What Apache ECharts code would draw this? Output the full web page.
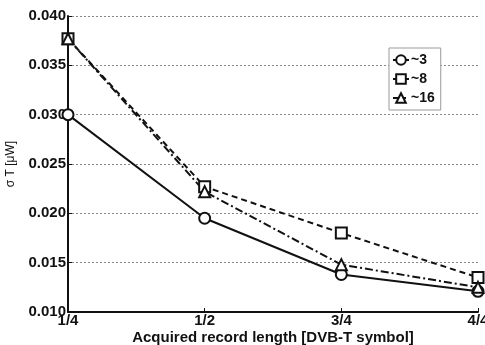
<!DOCTYPE html>
<html>
<head>
<meta charset="utf-8">
<script src="https://cdn.jsdelivr.net/npm/echarts@6/dist/echarts.min.js"></script>
<style>
  html, body { margin: 0; padding: 0; background: #fff; }
  #chart { width: 485px; height: 345px; }
</style>
</head>
<body>
<div id="chart"></div>
<script>
const categories = ['1/4', '1/2', '3/4', '4/4']
const seriesNames = ['~3', '~8', '~16']
const values3 = [0.0300, 0.0195, 0.0138, 0.0121]
const values8 = [0.0377, 0.0227, 0.0180, 0.0135]
const values16 = [0.0377, 0.0222, 0.0148, 0.0125]

const font = 'Liberation Sans, Arial, sans-serif'

const chart = echarts.init(document.getElementById('chart'))

const makeSeries = (name, data, symbol, dash) => ({
  name,
  type: 'line',
  data,
  symbol,
  symbolSize: 11,
  showAllSymbol: true,
  lineStyle: { color: '#111', width: 2, type: dash },
  itemStyle: { color: '#111', borderWidth: 1.5 }
})

chart.setOption({
  animation: false,
  textStyle: { fontFamily: font },
  grid: { left: 68, right: 7, top: 16, bottom: 33, containLabel: false, outerBoundsMode: 'none' },
  legend: {
    orient: 'vertical',
    left: 389,
    top: 48,
    itemWidth: 16,
    itemHeight: 12,
    itemGap: 5,
    padding: [5, 6, 5, 3],
    borderColor: '#999',
    borderWidth: 1,
    backgroundColor: '#fff',
    textStyle: { color: '#111', fontSize: 14, fontWeight: 'bold', fontFamily: font, padding: [0, 0, 0, -3] },
    data: seriesNames
  },
  xAxis: {
    type: 'category',
    data: categories,
    boundaryGap: false,
    name: 'Acquired record length [DVB-T symbol]',
    nameLocation: 'middle',
    nameGap: 18,
    nameMoveOverlap: false,
    nameTextStyle: { color: '#111', fontSize: 15, fontWeight: 'bold', fontFamily: font },
    axisLine: { lineStyle: { color: '#111', width: 2 } },
    axisTick: { inside: true, length: 4, lineStyle: { color: '#111' } },
    axisLabel: { color: '#111', fontSize: 15, fontWeight: 'bold', margin: 1 },
    splitLine: { show: false }
  },
  yAxis: {
    type: 'value',
    min: 0.010,
    max: 0.040,
    interval: 0.005,
    name: 'σ T [μW]',
    nameLocation: 'middle',
    nameGap: 51,
    nameMoveOverlap: false,
    nameTextStyle: { color: '#111', fontSize: 12, fontFamily: font },
    axisLine: { show: true, lineStyle: { color: '#111', width: 2 } },
    axisTick: { show: true, inside: true, length: 4, lineStyle: { color: '#111' } },
    axisLabel: { color: '#111', fontSize: 15, fontWeight: 'bold', margin: 2, formatter: v => v.toFixed(3) },
    splitLine: { show: true, lineStyle: { color: '#888', type: [2, 2], width: 1 } }
  },
  series: [
    makeSeries(seriesNames[0], values3, 'emptyCircle', 'solid'),
    makeSeries(seriesNames[1], values8, 'emptyRect', [6, 4]),
    makeSeries(seriesNames[2], values16, 'emptyTriangle', [8, 3, 2, 3])
  ]
})
</script>
</body>
</html>
